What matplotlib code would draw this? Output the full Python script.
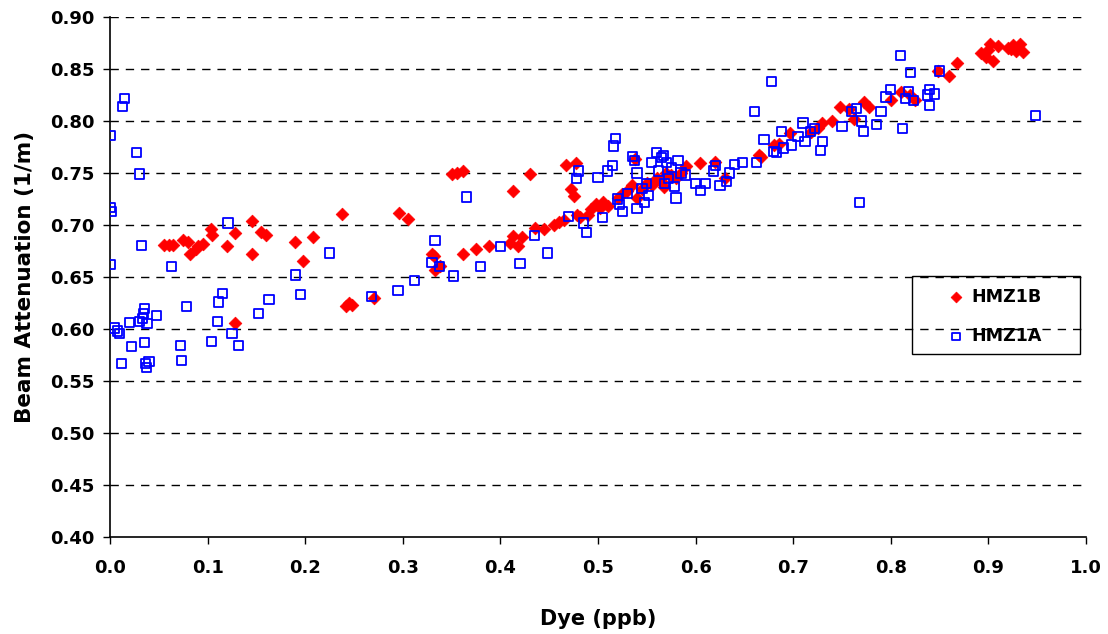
import matplotlib
matplotlib.use("Agg")
import matplotlib.pyplot as plt
from matplotlib.patches import Rectangle
from matplotlib.ticker import FormatStrFormatter

# -----------------------------
# data
# -----------------------------
hmz1b_x = [0.055, 0.060, 0.065, 0.075, 0.080, 0.082, 0.088, 0.090, 0.095, 0.103,
           0.105, 0.120, 0.128, 0.128, 0.145, 0.145, 0.155, 0.160, 0.190, 0.198,
           0.208, 0.238, 0.242, 0.245, 0.248, 0.270, 0.296, 0.305, 0.330, 0.332,
           0.333, 0.338, 0.350, 0.356, 0.362, 0.362, 0.375, 0.388, 0.410, 0.413,
           0.413, 0.418, 0.422, 0.430, 0.435, 0.445, 0.455, 0.460, 0.465, 0.467,
           0.472, 0.475, 0.477, 0.478, 0.482, 0.490, 0.493, 0.498, 0.502, 0.505,
           0.510, 0.520, 0.525, 0.530, 0.535, 0.538, 0.540, 0.545, 0.550, 0.555,
           0.560, 0.565, 0.568, 0.570, 0.575, 0.580, 0.585, 0.590, 0.605, 0.620,
           0.630, 0.665, 0.667, 0.680, 0.685, 0.697, 0.718, 0.725, 0.730, 0.740,
           0.748, 0.757, 0.762, 0.773, 0.778, 0.800, 0.810, 0.820, 0.825, 0.848,
           0.860, 0.868, 0.892, 0.898, 0.900, 0.902, 0.905, 0.910, 0.920, 0.923,
           0.925, 0.928, 0.932, 0.935]
hmz1b_y = [0.681, 0.681, 0.681, 0.686, 0.684, 0.672, 0.677, 0.680, 0.682, 0.696,
           0.690, 0.680, 0.692, 0.606, 0.704, 0.672, 0.693, 0.690, 0.684, 0.665,
           0.688, 0.711, 0.622, 0.625, 0.623, 0.630, 0.712, 0.706, 0.672, 0.670,
           0.657, 0.661, 0.749, 0.750, 0.752, 0.672, 0.677, 0.680, 0.683, 0.733,
           0.689, 0.680, 0.688, 0.749, 0.697, 0.696, 0.700, 0.703, 0.705, 0.758,
           0.735, 0.728, 0.760, 0.710, 0.708, 0.710, 0.715, 0.720, 0.716, 0.722,
           0.718, 0.726, 0.730, 0.733, 0.738, 0.763, 0.726, 0.735, 0.740, 0.738,
           0.745, 0.742, 0.737, 0.750, 0.748, 0.745, 0.750, 0.757, 0.760, 0.761,
           0.745, 0.767, 0.765, 0.777, 0.778, 0.788, 0.789, 0.793, 0.798, 0.800,
           0.813, 0.812, 0.802, 0.818, 0.813, 0.820, 0.828, 0.825, 0.820, 0.848,
           0.843, 0.856, 0.865, 0.862, 0.868, 0.874, 0.858, 0.872, 0.870, 0.869,
           0.873, 0.867, 0.874, 0.866]

hmz1a_x = [0.000, 0.000, 0.001, 0.000, 0.005, 0.008, 0.010, 0.013, 0.015, 0.012,
           0.020, 0.022, 0.027, 0.030, 0.030, 0.032, 0.033, 0.034, 0.035, 0.035,
           0.036, 0.038, 0.040, 0.037, 0.048, 0.063, 0.072, 0.073, 0.078, 0.104,
           0.110, 0.111, 0.115, 0.121, 0.125, 0.132, 0.152, 0.163, 0.190, 0.195,
           0.225, 0.268, 0.295, 0.312, 0.333, 0.330, 0.338, 0.352, 0.365, 0.380,
           0.400, 0.420, 0.435, 0.448, 0.470, 0.478, 0.480, 0.485, 0.488, 0.500,
           0.505, 0.510, 0.515, 0.516, 0.518, 0.520, 0.522, 0.525, 0.530, 0.535,
           0.537, 0.540, 0.540, 0.545, 0.548, 0.550, 0.552, 0.555, 0.560, 0.562,
           0.565, 0.567, 0.568, 0.570, 0.572, 0.575, 0.578, 0.580, 0.582, 0.585,
           0.590, 0.600, 0.605, 0.610, 0.618, 0.620, 0.625, 0.632, 0.635, 0.640,
           0.648, 0.660, 0.662, 0.670, 0.678, 0.680, 0.683, 0.688, 0.690, 0.698,
           0.705, 0.710, 0.712, 0.718, 0.722, 0.728, 0.730, 0.750, 0.760, 0.765,
           0.768, 0.770, 0.772, 0.785, 0.790, 0.795, 0.800, 0.810, 0.812, 0.815,
           0.818, 0.820, 0.823, 0.838, 0.840, 0.840, 0.845, 0.850, 0.948]
hmz1a_y = [0.786, 0.717, 0.713, 0.662, 0.601, 0.598, 0.596, 0.814, 0.822, 0.567,
           0.606, 0.583, 0.770, 0.749, 0.607, 0.680, 0.610, 0.615, 0.620, 0.587,
           0.567, 0.605, 0.569, 0.563, 0.613, 0.660, 0.584, 0.570, 0.622, 0.588,
           0.607, 0.626, 0.634, 0.702, 0.596, 0.584, 0.615, 0.628, 0.652, 0.633,
           0.673, 0.631, 0.637, 0.647, 0.685, 0.664, 0.660, 0.651, 0.727, 0.660,
           0.679, 0.663, 0.690, 0.673, 0.708, 0.745, 0.752, 0.702, 0.693, 0.746,
           0.707, 0.752, 0.757, 0.776, 0.783, 0.725, 0.720, 0.713, 0.730, 0.766,
           0.762, 0.750, 0.716, 0.735, 0.722, 0.740, 0.728, 0.760, 0.770, 0.752,
           0.765, 0.767, 0.740, 0.760, 0.745, 0.755, 0.737, 0.726, 0.762, 0.750,
           0.748, 0.740, 0.733, 0.740, 0.752, 0.757, 0.738, 0.742, 0.750, 0.758,
           0.760, 0.809, 0.760, 0.782, 0.838, 0.771, 0.770, 0.790, 0.774, 0.777,
           0.785, 0.798, 0.780, 0.790, 0.793, 0.772, 0.780, 0.795, 0.809, 0.812,
           0.722, 0.800, 0.790, 0.797, 0.809, 0.823, 0.830, 0.863, 0.793, 0.822,
           0.828, 0.847, 0.820, 0.825, 0.830, 0.815, 0.826, 0.848, 0.805]

x_ticks = [0.0, 0.1, 0.2, 0.3, 0.4, 0.5, 0.6, 0.7, 0.8, 0.9, 1.0]
y_ticks = [0.40, 0.45, 0.50, 0.55, 0.60, 0.65, 0.70, 0.75, 0.80, 0.85, 0.90]

# -----------------------------
# plot
# -----------------------------
plt.rcParams['font.family'] = ['DejaVu Sans']
plt.rcParams['font.weight'] = 'bold'

fig = plt.figure(figsize=(11.08, 6.34), dpi=100)
ax = fig.add_axes([110 / 1108, 1 - 537 / 634, 976 / 1108, 520 / 634])

ax.scatter(hmz1b_x, hmz1b_y, marker='D', s=42, color='#ff0000',
           edgecolors='#ff0000', linewidths=0.5, label='HMZ1B', zorder=3)
ax.scatter(hmz1a_x, hmz1a_y, marker='s', s=44, facecolors='none',
           edgecolors='#0000ff', linewidths=1.3, label='HMZ1A', zorder=3)

ax.set_xlim(0, 1.0)
ax.set_ylim(0.40, 0.90)
ax.set_xticks(x_ticks)
ax.set_yticks(y_ticks)
ax.xaxis.set_major_formatter(FormatStrFormatter('%.1f'))
ax.yaxis.set_major_formatter(FormatStrFormatter('%.2f'))

for y in y_ticks[1:]:
    ax.axhline(y, color='black', lw=1, ls=(0, (6, 5)), zorder=1)

for s in ['top', 'right']:
    ax.spines[s].set_visible(False)
ax.spines['left'].set_linewidth(1.2)
ax.spines['bottom'].set_linewidth(1.2)
ax.tick_params(direction='out', length=5, width=1, labelsize=13)
ax.tick_params(axis='x', pad=11)
ax.tick_params(axis='y', pad=6)
for lab in ax.get_xticklabels() + ax.get_yticklabels():
    lab.set_fontweight('bold')

ax.set_ylabel('Beam Attenuation (1/m)', fontsize=15.5, fontweight='bold', labelpad=11)
ax.set_xlabel('Dye (ppb)', fontsize=15, fontweight='bold', labelpad=23)

# legend box
ax.add_patch(Rectangle((0.822, 0.352), 0.172, 0.150, transform=ax.transAxes,
                       fill=False, edgecolor='black', lw=1, clip_on=False, zorder=4))
leg = ax.legend(loc='center left', bbox_to_anchor=(0.858, 0.424),
                frameon=False, fontsize=12.6, handlelength=1.0,
                handletextpad=0.35, labelspacing=1.2, borderpad=0,
                borderaxespad=0, markerscale=0.85)
for t in leg.get_texts():
    t.set_fontweight('bold')

fig.savefig('out.png', dpi=100)
